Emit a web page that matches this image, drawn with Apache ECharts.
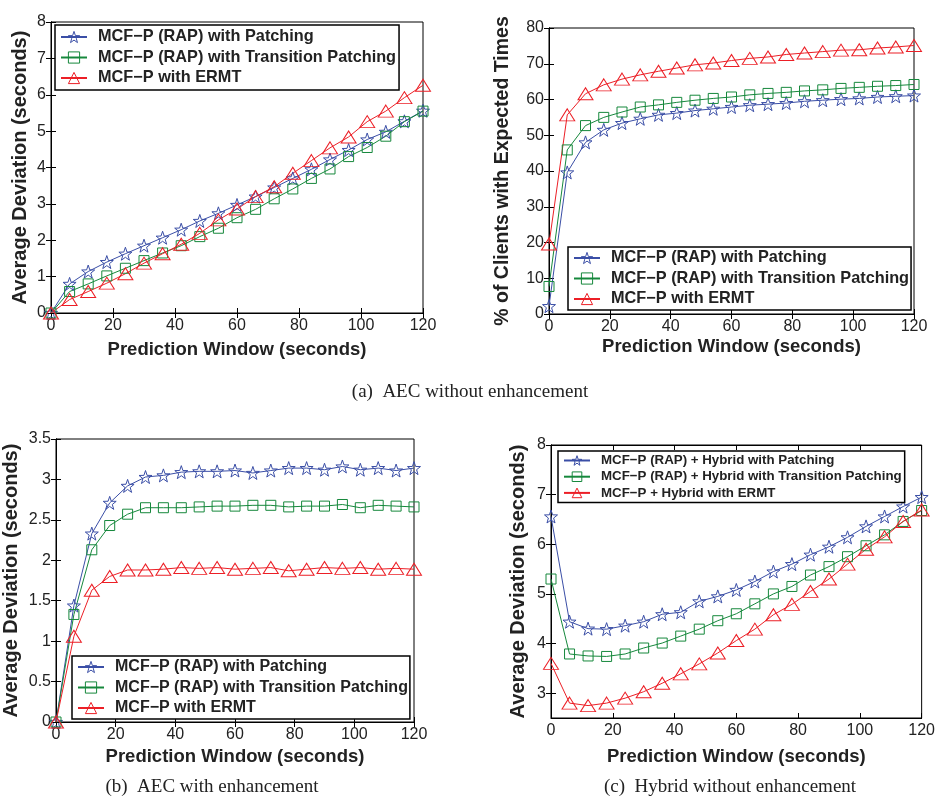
<!DOCTYPE html>
<html>
<head>
<meta charset="utf-8">
<title>AEC / Hybrid deviation</title>
<script src="https://cdn.jsdelivr.net/npm/echarts@6/dist/echarts.min.js"></script>
<style>
  html, body { margin: 0; padding: 0; background: #fff; }
  #main { width: 938px; height: 796px; }
</style>
</head>
<body>
<div id="main"></div>
<script>
// prediction window (seconds), same for every panel
const predWindow = [0, 6, 12, 18, 24, 30, 36, 42, 48, 54, 60, 66, 72, 78, 84, 90, 96, 102, 108, 114, 120]

// (a) left: average deviation
const devPatching = [0, 0.80, 1.14, 1.40, 1.63, 1.85, 2.07, 2.29, 2.53, 2.74, 2.97, 3.20, 3.45, 3.70, 3.95, 4.22, 4.48, 4.77, 4.98, 5.27, 5.56]
const devTransition = [0, 0.59, 0.80, 1.02, 1.23, 1.44, 1.65, 1.85, 2.10, 2.33, 2.62, 2.85, 3.14, 3.41, 3.70, 3.96, 4.30, 4.55, 4.86, 5.26, 5.55]
const devErmt = [0, 0.37, 0.59, 0.82, 1.08, 1.37, 1.63, 1.89, 2.19, 2.56, 2.86, 3.20, 3.47, 3.84, 4.19, 4.54, 4.84, 5.26, 5.55, 5.92, 6.26]

// (a) right: % of clients with expected times
const pctPatching = [2.2, 39.6, 48.0, 51.5, 53.4, 54.6, 55.7, 56.2, 56.9, 57.4, 57.9, 58.4, 58.7, 59.0, 59.5, 59.8, 60.1, 60.3, 60.7, 60.9, 61.1]
const pctTransition = [7.7, 45.9, 52.7, 55.0, 56.5, 57.9, 58.5, 59.2, 59.8, 60.3, 60.7, 61.3, 61.7, 62.0, 62.4, 62.7, 63.1, 63.4, 63.7, 63.9, 64.2]
const pctErmt = [19.6, 55.7, 61.6, 64.1, 65.7, 66.9, 67.9, 68.8, 69.7, 70.2, 70.9, 71.5, 71.9, 72.6, 73.0, 73.4, 73.8, 73.9, 74.4, 74.7, 75.1]

// (b) AEC with enhancement
const enhPatching = [0, 1.44, 2.33, 2.71, 2.92, 3.03, 3.05, 3.09, 3.10, 3.10, 3.11, 3.08, 3.11, 3.14, 3.14, 3.12, 3.16, 3.12, 3.14, 3.11, 3.14]
const enhTransition = [0, 1.33, 2.13, 2.43, 2.57, 2.65, 2.65, 2.65, 2.66, 2.67, 2.67, 2.68, 2.68, 2.66, 2.67, 2.67, 2.69, 2.65, 2.68, 2.67, 2.66]
const enhErmt = [0, 1.06, 1.63, 1.80, 1.88, 1.88, 1.89, 1.91, 1.90, 1.91, 1.89, 1.90, 1.91, 1.87, 1.89, 1.91, 1.90, 1.91, 1.89, 1.90, 1.89]

// (c) Hybrid without enhancement
const hybPatching = [6.56, 4.44, 4.30, 4.29, 4.36, 4.44, 4.59, 4.63, 4.85, 4.95, 5.08, 5.25, 5.45, 5.60, 5.79, 5.95, 6.14, 6.36, 6.56, 6.76, 6.95]
const hybTransition = [5.30, 3.79, 3.75, 3.74, 3.79, 3.91, 4.01, 4.15, 4.29, 4.46, 4.60, 4.80, 5.00, 5.15, 5.38, 5.55, 5.75, 5.97, 6.19, 6.46, 6.68]
const hybErmt = [3.60, 2.80, 2.75, 2.80, 2.90, 3.03, 3.20, 3.39, 3.59, 3.81, 4.06, 4.29, 4.58, 4.79, 5.05, 5.30, 5.60, 5.90, 6.15, 6.46, 6.69]

const hybTicks = [3, 4, 5, 6, 7, 8]

const namePatching = 'MCF−P (RAP) with Patching'
const nameTransition = 'MCF−P (RAP) with Transition Patching'
const nameErmt = 'MCF−P with ERMT'
const nameHybPatching = 'MCF−P (RAP) + Hybrid with Patching'
const nameHybTransition = 'MCF−P (RAP) + Hybrid with Transition Patching'
const nameHybErmt = 'MCF−P + Hybrid with ERMT'

const FONT = 'Liberation Sans, Arial, Helvetica, sans-serif'
const BLUE = '#3a4ea6'
const GREEN = '#16883c'
const RED = '#ec1f26'
const STAR = 'path://M0,-10L2.35,-3.24L9.51,-3.09L3.8,1.24L5.88,8.09L0,4L-5.88,8.09L-3.8,1.24L-9.51,-3.09L-2.35,-3.24Z'
const colors = [BLUE, GREEN, RED]

const grids = [
  { left: 51, top: 22, width: 372, height: 291 },
  { left: 549, top: 28, width: 365, height: 286 },
  { left: 53, top: 439, width: 361, height: 283 },
  { left: 551, top: 445, width: 372, height: 273 }
]

const xAxes = []
const yAxes = []

function addAxes (g, y, yName, yGap, xGap, yFont) {
  const tick = { inside: true, length: 5, lineStyle: { color: '#000' } }
  const line = { show: true, lineStyle: { color: '#000', width: 1 } }
  xAxes.push({
    gridIndex: g, type: 'value', min: 0, max: 120, interval: 20,
    name: 'Prediction Window (seconds)', nameLocation: 'middle', nameGap: xGap,
    nameTextStyle: { fontFamily: FONT, fontSize: 18.5, fontWeight: 'bold', color: '#222' },
    axisLine: line, axisTick: tick, splitLine: { show: false },
    axisLabel: { margin: 5, fontFamily: FONT, fontSize: 16, color: '#222' }
  })
  xAxes.push({
    gridIndex: g, type: 'value', min: 0, max: 120, interval: 20, position: 'top',
    axisLine: line, axisTick: tick, splitLine: { show: false }, axisLabel: { show: false }
  })
  const yLeft = {
    gridIndex: g, type: 'value', min: y.min, max: y.max, interval: y.interval,
    name: yName, nameLocation: 'middle', nameGap: yGap,
    nameTextStyle: { fontFamily: FONT, fontSize: yFont, fontWeight: 'bold', color: '#222' },
    axisLine: line, axisTick: Object.assign({}, tick), splitLine: { show: false },
    axisLabel: { margin: 5, fontFamily: FONT, fontSize: 16, color: '#222' }
  }
  const yRight = {
    gridIndex: g, type: 'value', min: y.min, max: y.max, interval: y.interval, position: 'right',
    axisLine: line, axisTick: Object.assign({}, tick), splitLine: { show: false }, axisLabel: { show: false }
  }
  if (y.custom) {
    yLeft.axisLabel.customValues = y.custom
    yLeft.axisTick.customValues = y.custom
    yRight.axisTick.customValues = y.custom
  }
  yAxes.push(yLeft, yRight)
}

addAxes(0, { min: 0, max: 8, interval: 1 }, 'Average Deviation (seconds)', 21, 27, 20)
addAxes(1, { min: 0, max: 80, interval: 10 }, '% of Clients with Expected Times', 36, 23, 19.5)
addAxes(2, { min: 0, max: 3.5, interval: 0.5 }, 'Average Deviation (seconds)', 35, 25, 20)
addAxes(3, { min: 2.5, max: 8, interval: 0.5, custom: hybTicks }, 'Average Deviation (seconds)', 23, 29, 20)

function pairs (ys) {
  return predWindow.map((x, i) => [x, ys[i]])
}

function lineSeries (name, ys, color, symbol, size, g) {
  return {
    name: name,
    type: 'line',
    xAxisIndex: g * 2,
    yAxisIndex: g * 2,
    data: pairs(ys),
    symbol: symbol,
    symbolSize: size,
    showAllSymbol: true,
    lineStyle: { color: color, width: 1 },
    itemStyle: { color: 'rgba(255,255,255,0)', borderColor: color, borderWidth: 1 },
    emphasis: { disabled: true },
    animation: false
  }
}

const series = []
const panelData = [
  [devPatching, devTransition, devErmt, [namePatching, nameTransition, nameErmt]],
  [pctPatching, pctTransition, pctErmt, [namePatching, nameTransition, nameErmt]],
  [enhPatching, enhTransition, enhErmt, [namePatching, nameTransition, nameErmt]],
  [hybPatching, hybTransition, hybErmt, [nameHybPatching, nameHybTransition, nameHybErmt]]
]
panelData.forEach((p, g) => {
  series.push(lineSeries(p[3][0], p[0], BLUE, STAR, 13, g))
  series.push(lineSeries(p[3][1], p[1], GREEN, 'rect', 10, g))
  series.push(lineSeries(p[3][2], p[2], RED, 'triangle', [15, 12], g))
})

function makeLegend (names, left, top, fontSize, lineHeight, gap, pad, iconH) {
  return {
    // hollow icons like the plotted markers
    data: names.map((n, i) => ({
      name: n,
      itemStyle: { color: 'rgba(255,255,255,0)', borderColor: colors[i], borderWidth: 1 }
    })),
    orient: 'vertical',
    left: left,
    top: top,
    selectedMode: false,
    backgroundColor: '#fff',
    borderColor: '#000',
    borderWidth: 1.5,
    padding: pad,
    itemGap: gap,
    itemWidth: 26,
    itemHeight: iconH,
    textStyle: {
      fontFamily: FONT, fontSize: fontSize, fontWeight: 'bold', color: '#222',
      lineHeight: lineHeight, padding: [0, 0, 0, 6]
    }
  }
}

const myChart = echarts.init(document.getElementById('main'), null, { renderer: 'canvas' })
const option = {
  backgroundColor: '#fff',
  animation: false,
  grid: grids.map(g => Object.assign({ show: true, borderColor: '#000', borderWidth: 1, backgroundColor: 'transparent' }, g)),
  xAxis: xAxes,
  yAxis: yAxes,
  legend: [
    makeLegend([namePatching, nameTransition, nameErmt], 55, 25, 16.3, 16, 4.5, [4, 3, 4, 5], 14),
    makeLegend([namePatching, nameTransition, nameErmt], 568, 247, 16.3, 16, 4.5, [3, 2, 3, 5], 14),
    makeLegend([namePatching, nameTransition, nameErmt], 72, 656, 16, 16, 4.5, [3, 2, 3, 5], 14),
    makeLegend([nameHybPatching, nameHybTransition, nameHybErmt], 558, 451, 13.3, 13, 3.2, [3, 3, 3, 5], 12)
  ],
  series: series,
  graphic: [
    { type: 'text', x: 470, y: 392, style: { text: '(a)  AEC without enhancement', align: 'center', verticalAlign: 'middle', font: '19px "Liberation Serif", "Times New Roman", serif', fill: '#222' } },
    { type: 'text', x: 212, y: 787, style: { text: '(b)  AEC with enhancement', align: 'center', verticalAlign: 'middle', font: '19px "Liberation Serif", "Times New Roman", serif', fill: '#222' } },
    { type: 'text', x: 730, y: 787, style: { text: '(c)  Hybrid without enhancement', align: 'center', verticalAlign: 'middle', font: '19px "Liberation Serif", "Times New Roman", serif', fill: '#222' } }
  ]
}
myChart.setOption(option)
</script>
</body>
</html>
